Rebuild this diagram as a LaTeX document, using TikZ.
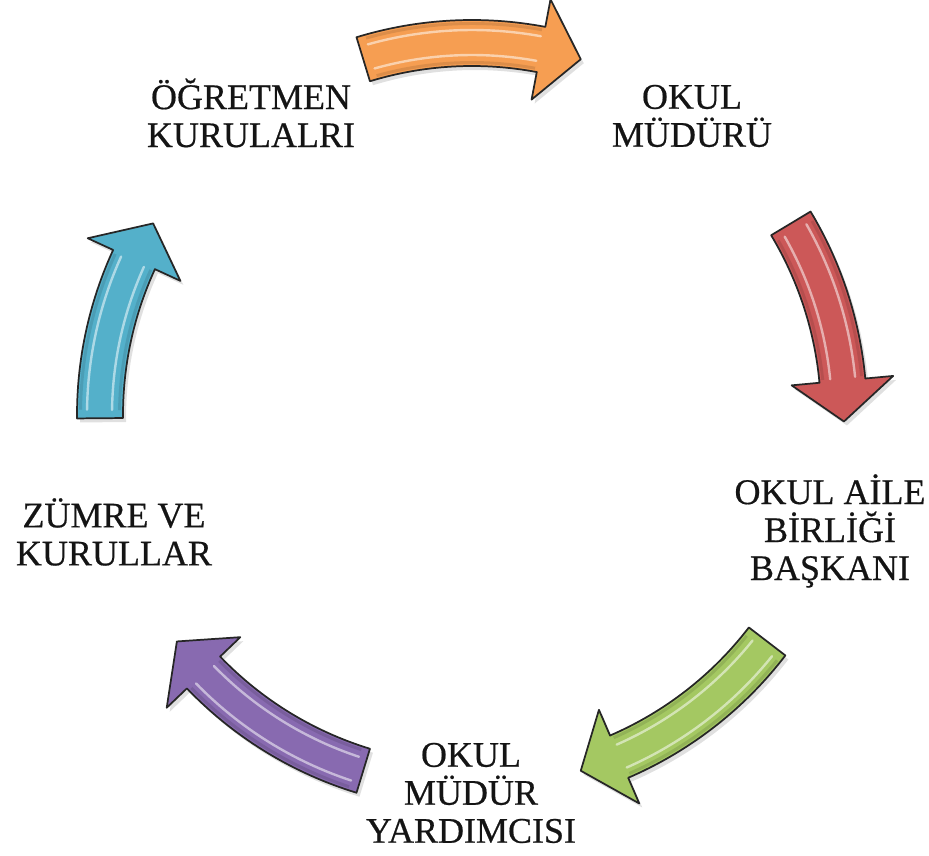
\documentclass[tikz,border=0pt]{standalone}
\usepackage{fontspec}
\setmainfont{Liberation Serif}
\newfontfamily\lblfont{Liberation Serif}[FakeBold=0.5]
\definecolor{aorange}{RGB}{246,158,82}
\definecolor{ared}{RGB}{204,88,88}
\definecolor{agreen}{RGB}{164,200,98}
\definecolor{apurple}{RGB}{136,106,176}
\definecolor{ablue}{RGB}{84,176,202}
\begin{document}
\begin{tikzpicture}[x=0.75pt,y=0.75pt,
  lbl/.style={align=center,inner sep=0pt,text=black!92,
    font=\lblfont\fontsize{27}{28.5}\selectfont},
  arrowline/.style={draw=black!85,line width=1.3pt,line join=round},
  gloss/.style={line width=1.8pt,line cap=round,opacity=0.7}]
\useasboundingbox (-472,-441) rectangle (457,415);

\foreach \c/\a/\b in {aorange/107/73, ared/31/-1, agreen/-37.5/-73,
                      apurple/-107/-142.5, ablue/180.5/149}{
  \pgfmathsetmacro\hb{\b+6.3}
  \pgfmathsetmacro\ga{\a-1.3}
  \pgfmathsetmacro\gb{\hb+0.4}
  % soft shadow
  \fill[black,opacity=0.12,shift={(3,-4)}]
    (\a:395) arc[start angle=\a,end angle=\hb,radius=395]
    -- (\hb:423) -- (\b:372) -- (\hb:321) -- (\hb:349)
    arc[start angle=\hb,end angle=\a,radius=349] -- cycle;
  % arrow body
  \path[arrowline,fill=\c]
    (\a:395) arc[start angle=\a,end angle=\hb,radius=395]
    -- (\hb:423) -- (\b:372) -- (\hb:321) -- (\hb:349)
    arc[start angle=\hb,end angle=\a,radius=349] -- cycle;
  % bevel / gloss
  \draw[line width=2.2pt,\c!70!black,opacity=0.35] (\ga:391.5) arc[start angle=\ga,end angle=\gb,radius=391.5];
  \draw[line width=2.2pt,\c!70!black,opacity=0.35] (\ga:352.5) arc[start angle=\ga,end angle=\gb,radius=352.5];
  \draw[gloss,\c!25!white] (\ga:385) arc[start angle=\ga,end angle=\gb,radius=385];
  \draw[gloss,\c!25!white] (\ga:360) arc[start angle=\ga,end angle=\gb,radius=360];
}

\node[lbl] (ogretmen) at (-221,302) {ÖĞRETMEN\\KURULALRI};
\node[lbl] (mudur) at (220,299) {OKUL\\MÜDÜRÜ};
\node[lbl] (aile) at (358,-116) {OKUL AİLE\\BİRLİĞİ\\BAŞKANI};
\node[lbl] (yardimci) at (-1,-378) {OKUL\\MÜDÜR\\YARDIMCISI};
\node[lbl] (zumre) at (-358,-117) {ZÜMRE VE\\KURULLAR};
\end{tikzpicture}
\end{document}
